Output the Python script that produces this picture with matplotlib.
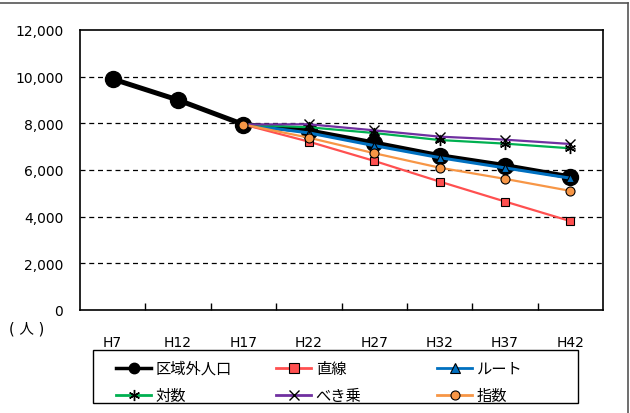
import matplotlib.pyplot as plt
import numpy as np
from matplotlib.lines import Line2D
from matplotlib.patches import Rectangle

plt.rcParams['font.family'] = ['DejaVu Sans', 'Noto Sans CJK JP']

years = ["H7", "H12", "H17", "H22", "H27", "H32", "H37", "H42"]
actual = [9900, 9000, 7950, 7680, 7160, 6615, 6190, 5705]
linear = [None, None, 7950, 7215, 6390, 5505, 4650, 3810]
root = [None, None, 7950, 7590, 7045, 6530, 6090, 5650]
log_ = [None, None, 7950, 7830, 7585, 7285, 7130, 6930]
power = [None, None, 7950, 7960, 7700, 7430, 7300, 7115]
expo = [None, None, 7950, 7385, 6720, 6100, 5620, 5105]
names = ['区域外人口', '直線', 'ルート', '対数', 'べき乗', '指数']

styles = [
    dict(color='black', lw=3.6, marker='o', ms=11.5, mfc='black', mec='black'),
    dict(color='#FF5050', lw=1.6, marker='s', ms=6, mfc='#FF5050', mec='black', mew=0.8),
    dict(color='#0070C0', lw=2.2, marker='^', ms=6, mfc='#0070C0', mec='black', mew=0.8),
    dict(color='#00B050', lw=1.6, marker=(6, 2, 0), ms=8, mfc='black', mec='black', mew=1),
    dict(color='#7030A0', lw=1.6, marker='x', ms=6.5, mfc='black', mec='black', mew=1),
    dict(color='#F79646', lw=1.6, marker='o', ms=6.5, mfc='#F79646', mec='black', mew=0.8),
]
leg_ms = [7.5, 6.5, 6.5, 8, 6.5, 6.5]
leg_lw = [2.5, 2, 2, 2, 2, 2]


def arr(v):
    return np.array([np.nan if a is None else a for a in v], dtype=float)


fig = plt.figure(figsize=(6.3, 4.14), dpi=100)
ax = fig.add_axes([80/630, 1-311/414, 523/630, 280/414])
x = np.arange(len(years))

series = [actual, linear, root, log_, power, expo]
for i, (vals, st) in enumerate(zip(series, styles)):
    ax.plot(x, arr(vals), label=names[i], zorder=3 + (i == 5) + (i > 0), **st)

ax.set_xlim(-0.5, len(years) - 0.5)
ax.set_ylim(0, 12000)
ax.set_yticks(np.arange(0, 12001, 2000))
ax.set_yticklabels([f"{v:,}" for v in range(0, 12001, 2000)], fontsize=10)
ax.tick_params(axis='y', length=0, pad=12)
for v in range(2000, 12000, 2000):
    ax.axhline(v, color='black', lw=0.9, ls=(0, (4, 3)), zorder=1)

ax.set_xticks(np.arange(0.5, len(years) - 1, 1))
ax.set_xticklabels([])
ax.tick_params(axis='x', which='major', direction='in', length=5, width=1)
ax.set_xticks(x, minor=True)
ax.set_xticklabels(years, minor=True, fontsize=10)
ax.tick_params(axis='x', which='minor', length=0, pad=18)
for s in ax.spines.values():
    s.set_linewidth(1.2)

fig.text(9/630, 1-329/414, '( 人 )', fontsize=10.5, va='center', ha='left')

# legend: frame + three columns of two entries each
fig.add_artist(Rectangle((93/630, 1-404/414), 485/630, 53/414, transform=fig.transFigure,
                         fill=False, edgecolor='black', lw=1.0))
col_x = [116, 276, 437]
for c in range(3):
    idx = [c, c + 3]
    hs = [Line2D([], [], **{**styles[i], 'ms': leg_ms[i], 'lw': leg_lw[i]}) for i in idx]
    fig.legend(hs, [names[i] for i in idx], loc='upper left',
               bbox_to_anchor=(col_x[c]/630, 1-362/414), frameon=False,
               fontsize=11, handlelength=2.3, handletextpad=0.3,
               borderpad=0.0, borderaxespad=0.0, labelspacing=0.78)

fig.add_artist(Line2D([0, 628/630], [1-4/414, 1-4/414], color='#555555', lw=1.2))
fig.add_artist(Line2D([628/630, 628/630], [0, 1-4/414], color='#555555', lw=1.2))

fig.savefig('out.png', dpi=100)
